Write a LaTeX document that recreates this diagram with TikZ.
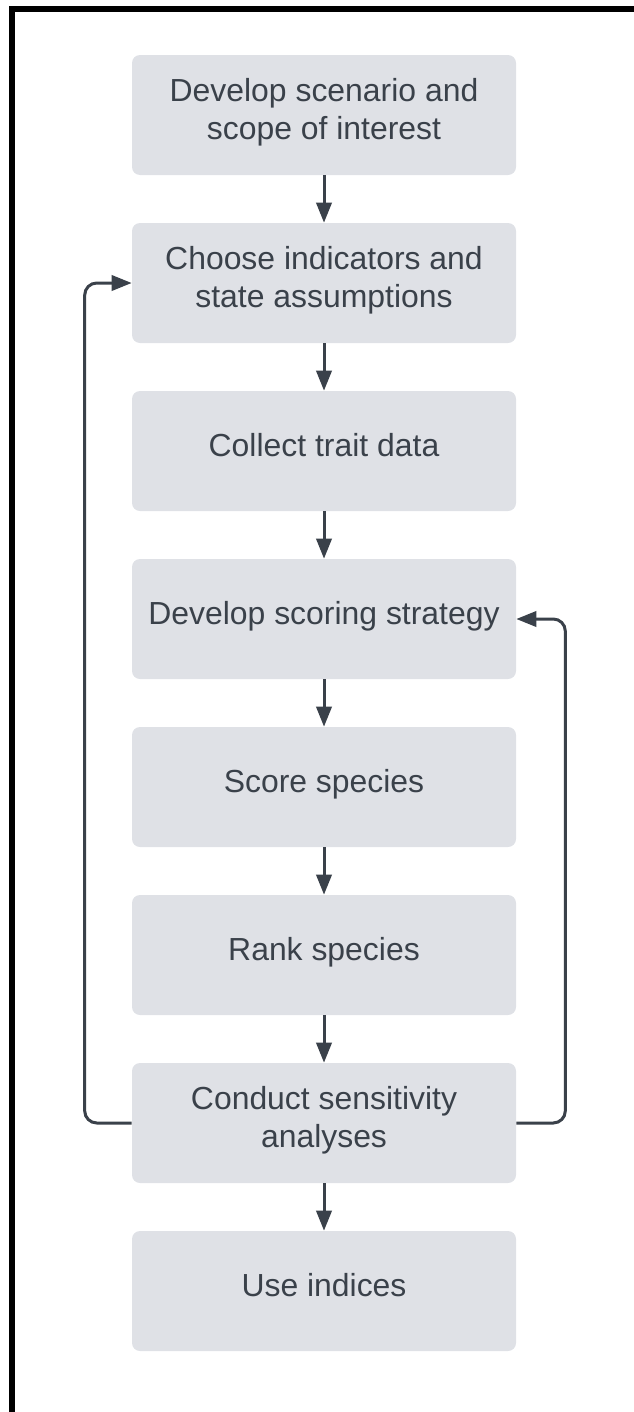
\documentclass[tikz,border=0pt]{standalone}
\usepackage{fontspec}
\setmainfont{Liberation Sans}
\usetikzlibrary{arrows.meta}
\definecolor{cajagris}{HTML}{DFE1E6}
\definecolor{tinta}{HTML}{3A414A}
\begin{document}
\begin{tikzpicture}[
	caja/.style={fill=cajagris, rounded corners=0.2cm, minimum width=9.6cm, minimum height=3cm, align=center, text=tinta, text depth=9pt, font=\fontsize{22.7}{27}\selectfont},
	flecha/.style={draw=tinta, line width=0.075cm, -{Triangle[width=0.38cm,length=0.5cm]}}
]
    		\useasboundingbox (0,0) rectangle (15.85,-35.3);
    		%marco
    		\draw[line width=0.15cm] (0.3,-35.3) |- (15.85,-0.225);
  		%%%% CAJAS!!!
  		\node[caja] at (8.1,-2.875) (scen) {Develop scenario and\\scope of interest};
  		\node[caja] at (8.1,-7.075) (indic) {Choose indicators and\\state assumptions};
  		\node[caja] at (8.1,-11.275) (data) {Collect trait data};
  		\node[caja] at (8.1,-15.475) (strat) {Develop scoring strategy};
  		\node[caja] at (8.1,-19.675) (score) {Score species};
  		\node[caja] at (8.1,-23.875) (rank) {Rank species};
  		\node[caja] at (8.1,-28.075) (sens) {Conduct sensitivity\\analyses};
  		\node[caja] at (8.1,-32.275) (use) {Use indices};
  		%%%% FLECHAS
  		\draw[flecha] (scen) -- (indic);
  		\draw[flecha] (indic) -- (data);
  		\draw[flecha] (data) -- (strat);
  		\draw[flecha] (strat) -- (score);
  		\draw[flecha] (score) -- (rank);
  		\draw[flecha] (rank) -- (sens);
  		\draw[flecha] (sens) -- (use);
  		%vuelta atras
  		\draw[flecha, rounded corners=0.3cm] (sens.west) -- ++(-1.175,0) |- (indic.west);
  		\draw[flecha, rounded corners=0.3cm] (sens.east) -- ++(1.225,0) |- (strat.east);
	\end{tikzpicture}
\end{document}
